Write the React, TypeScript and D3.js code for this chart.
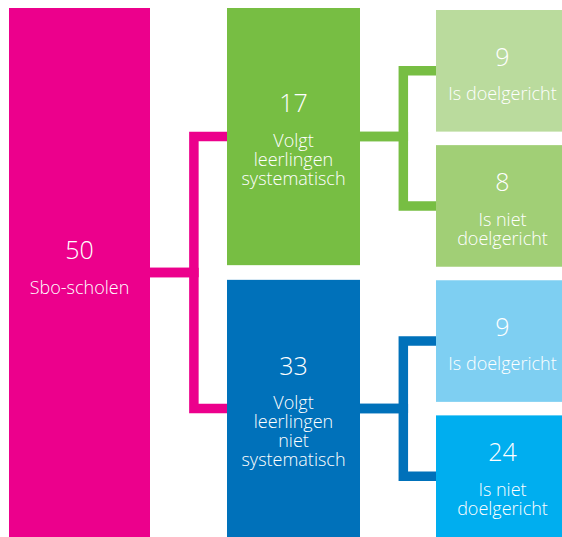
import React from "react";
import * as d3 from "d3";

// ---- data ----
const nodeValues = [50, 17, 33, 9, 8, 9, 24];
const nodeLines = [
  ["Sbo-scholen"],
  ["Volgt", "leerlingen", "systematisch"],
  ["Volgt", "leerlingen", "niet", "systematisch"],
  ["Is doelgericht"],
  ["Is niet", "doelgericht"],
  ["Is doelgericht"],
  ["Is niet", "doelgericht"],
];
const nodeParents = [-1, 0, 0, 1, 1, 2, 2];
const nodeColors = ["#EC008C", "#77BE43", "#0071BA", "#BADB9D", "#A1CF76", "#7ECFF2", "#00AEEF"];

// ---- layout constants ----
const W = 562;
const H = 537;
const colX = [9, 227, 436];
const colW = [141, 133, 133];
const rowRange: [number, number][] = [[8, 537], [8, 537], [10, 537]];
const rowPad = [0, 0.054, 0.1];
const FONT = "'Open Sans', 'Noto Sans', sans-serif";
const numSize = 25;
const labelSize = 18;
const lineGap = 19;
const numToLabel = 34.5;
const strokeW = 9.5;

type N = { id: number; value: number; lines: string[]; color: string; parent: number | null };

export default function App() {
  const table: N[] = nodeValues.map((v, i) => ({
    id: i,
    value: v,
    lines: nodeLines[i],
    color: nodeColors[i],
    parent: nodeParents[i] < 0 ? null : nodeParents[i],
  }));
  const root = d3
    .stratify<N>()
    .id((d) => String(d.id))
    .parentId((d) => (d.parent === null ? null : String(d.parent)))(table);

  const byDepth = d3.group(root.descendants(), (d) => d.depth);
  const boxes = new Map<number, { x: number; y: number; w: number; h: number; d: any }>();
  byDepth.forEach((nodes, depth) => {
    const band = d3
      .scaleBand<number>()
      .domain(nodes.map((n) => n.data.id))
      .range(rowRange[depth])
      .paddingInner(rowPad[depth]);
    nodes.forEach((n) => {
      boxes.set(n.data.id, {
        x: colX[depth],
        y: band(n.data.id)!,
        w: colW[depth],
        h: band.bandwidth(),
        d: n,
      });
    });
  });

  const links = root.links().map((l) => {
    const p = boxes.get(l.source.data.id)!;
    const c = boxes.get(l.target.data.id)!;
    const px = p.x + p.w;
    const py = p.y + p.h / 2;
    const cx = c.x;
    const cy = c.y + c.h / 2;
    const mx = px + (cx - px) * 0.57;
    const path = d3.path();
    path.moveTo(px, py);
    path.lineTo(mx, py);
    path.lineTo(mx, cy);
    path.lineTo(cx, cy);
    return { key: `${l.source.data.id}-${l.target.data.id}`, d: path.toString(), color: l.source.data.color };
  });

  return (
    <svg
      width={W}
      height={H}
      style={{ position: "absolute", left: 0, top: 0, background: "#fff" }}
      fontFamily={FONT}
    >
      {links.map((l) => (
        <path
          key={l.key}
          d={l.d}
          fill="none"
          stroke={l.color}
          strokeWidth={strokeW}
          strokeLinejoin="miter"
        />
      ))}
      {Array.from(boxes.values()).map((b) => {
        const n = b.d.data as N;
        const cxm = b.x + b.w / 2;
        const blockH = numSize * 0.72 + numToLabel + (n.lines.length - 1) * lineGap;
        const shift = n.lines.length === 1 && b.d.depth === 0 ? -5 : 3;
        const top = b.y + b.h / 2 - blockH / 2 + shift;
        const numBase = top + numSize * 0.72;
        const labBase = numBase + numToLabel;
        return (
          <g key={n.id}>
            <rect x={b.x} y={b.y} width={b.w} height={b.h} fill={n.color} />
            <text x={cxm} y={numBase} textAnchor="middle" fill="#fff" fontSize={numSize} fontWeight={350}>
              {n.value}
            </text>
            {n.lines.map((ln, i) => (
              <text
                key={i}
                x={cxm}
                y={labBase + i * lineGap}
                textAnchor="middle"
                fill="#fff"
                fontSize={labelSize}
                fontWeight={350}
              >
                {ln}
              </text>
            ))}
          </g>
        );
      })}
    </svg>
  );
}
